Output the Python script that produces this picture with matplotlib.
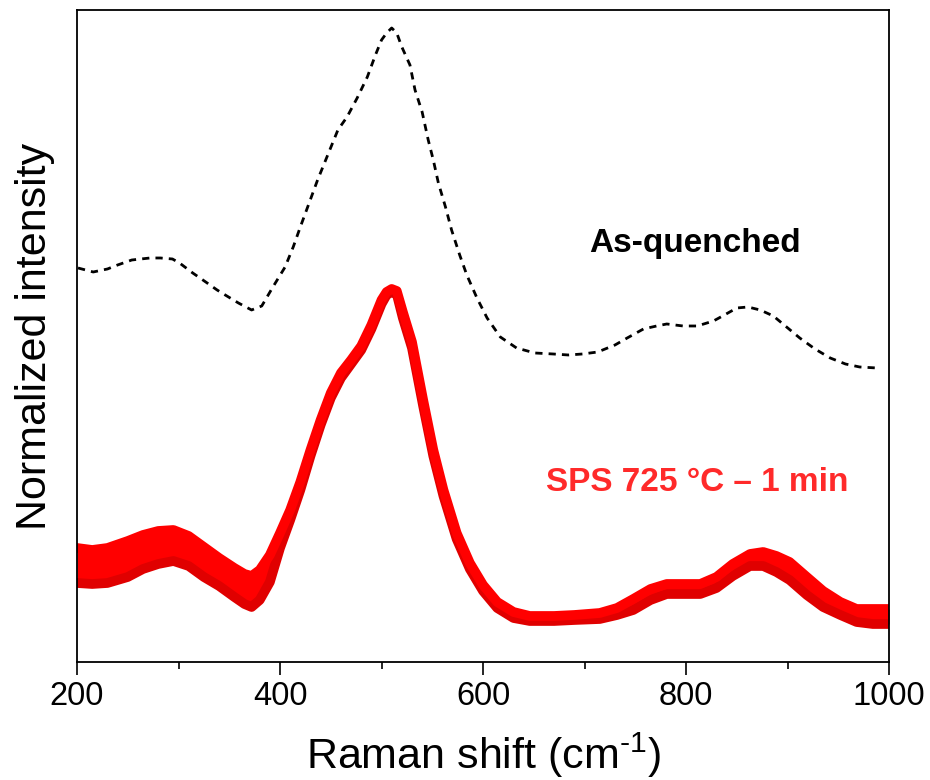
import matplotlib
matplotlib.use("Agg")
import matplotlib.pyplot as plt
from matplotlib.ticker import MultipleLocator

plt.rcParams['font.family'] = ['Liberation Sans', 'DejaVu Sans']
plt.rcParams['mathtext.fontset'] = 'custom'
plt.rcParams['mathtext.rm'] = 'Liberation Sans'
plt.rcParams['mathtext.default'] = 'regular'

# As-quenched spectrum (dashed, offset upwards)
aq_shift = [201, 216, 230, 240, 254, 272, 282, 294, 301, 314, 324, 338, 346, 359, 372, 382, 393, 405, 413, 420,
            437, 457, 466, 476, 486, 494, 500, 505, 510, 515, 520, 528, 533, 540, 546, 551, 556, 563, 569, 577,
            584, 594, 604, 617, 633, 651, 669, 684, 698, 713, 730, 742, 758, 771, 781, 797, 811, 827, 836, 850,
            861, 873, 886, 899, 912, 927, 942, 957, 971, 988]
aq_int = [3.94, 3.90, 3.93, 3.97, 4.02, 4.04, 4.04, 4.03, 3.99, 3.89, 3.82, 3.72, 3.67, 3.59, 3.52, 3.56, 3.75, 3.95, 4.15, 4.35,
          4.82, 5.32, 5.45, 5.64, 5.85, 6.07, 6.22, 6.29, 6.34, 6.29, 6.15, 5.97, 5.72, 5.50, 5.22, 5.02, 4.79, 4.55, 4.32, 4.07,
          3.87, 3.64, 3.44, 3.25, 3.14, 3.09, 3.08, 3.07, 3.08, 3.10, 3.17, 3.24, 3.33, 3.36, 3.38, 3.36, 3.36, 3.41, 3.46, 3.54,
          3.55, 3.52, 3.46, 3.35, 3.24, 3.13, 3.04, 2.98, 2.95, 2.94]

# SPS 725 °C - 1 min spectra: upper and lower extremes of the overlapping set
sps_shift = [200, 215, 230, 250, 265, 280, 295, 310, 325, 340, 355, 365, 372, 380, 390, 400, 410, 420, 430, 440,
             450, 460, 470, 480, 490, 500, 505, 510, 515, 521, 530, 541, 551, 561, 574, 587, 600, 614, 630, 646,
             670, 690, 715, 732, 748, 765, 781, 797, 814, 830, 846, 863, 876, 889, 902, 919, 935, 952, 968, 984, 1000]
sps_upper = [1.14, 1.12, 1.14, 1.21, 1.27, 1.31, 1.32, 1.26, 1.15, 1.04, 0.94, 0.88, 0.86, 0.92, 1.07, 1.29, 1.52, 1.80, 2.12, 2.42,
             2.69, 2.89, 3.02, 3.16, 3.37, 3.62, 3.70, 3.73, 3.71, 3.50, 3.20, 2.62, 2.12, 1.72, 1.29, 0.99, 0.77, 0.60, 0.50, 0.46,
             0.46, 0.47, 0.49, 0.54, 0.63, 0.73, 0.78, 0.78, 0.78, 0.85, 0.98, 1.08, 1.10, 1.06, 1.00, 0.85, 0.71, 0.60, 0.53, 0.53, 0.53]
sps_lower = [0.79, 0.78, 0.79, 0.85, 0.93, 0.98, 1.01, 0.96, 0.85, 0.76, 0.65, 0.58, 0.55, 0.62, 0.80, 1.14, 1.42, 1.72, 2.06, 2.37,
             2.64, 2.84, 2.98, 3.12, 3.33, 3.58, 3.67, 3.70, 3.68, 3.44, 3.14, 2.56, 2.06, 1.66, 1.23, 0.93, 0.71, 0.54, 0.44, 0.41,
             0.41, 0.42, 0.43, 0.47, 0.52, 0.62, 0.68, 0.68, 0.68, 0.74, 0.86, 0.96, 0.96, 0.90, 0.82, 0.67, 0.55, 0.47, 0.40, 0.38, 0.38]

x_ticks = [200, 400, 600, 800, 1000]
label_aq = "As-quenched"
label_sps = "SPS 725 °C – 1 min"

fig = plt.figure(figsize=(9.3, 7.8), dpi=100)
ax = fig.add_axes([0.0828, 0.1513, 0.956 - 0.0828, 0.9872 - 0.1513])

ax.plot(aq_shift, aq_int, color='black', lw=2.0, linestyle=(0, (2.6, 2.2)))

ax.fill_between(sps_shift, sps_lower, sps_upper, color='#FF0000', lw=0)
ax.plot(sps_shift, sps_lower, color='#E00000', lw=7, solid_joinstyle='round')
ax.plot(sps_shift, sps_upper, color='#FF0000', lw=7, solid_joinstyle='round')

ax.text(809, 4.10, label_aq, ha='center', va='baseline', fontsize=24, fontweight='bold', color='black')
ax.text(811, 1.71, label_sps, ha='center', va='baseline', fontsize=24, fontweight='bold', color='#FF2A2A')

ax.set_xlim(200, 1000)
ax.set_ylim(0, 6.52)
ax.set_xticks(x_ticks)
ax.xaxis.set_minor_locator(MultipleLocator(100))
ax.set_yticks([])
ax.tick_params(axis='x', which='major', direction='out', length=9.4, width=1.2, labelsize=23.5, pad=4)
ax.tick_params(axis='x', which='minor', direction='out', length=5, width=1.2)
for s in ax.spines.values():
    s.set_linewidth(1.3)

ax.set_xlabel(r"Raman shift (cm$^{\text{-1}}$)", fontsize=31, labelpad=14)
ax.set_ylabel("Normalized intensity", fontsize=31, labelpad=16)

fig.savefig("out.png", dpi=100)
